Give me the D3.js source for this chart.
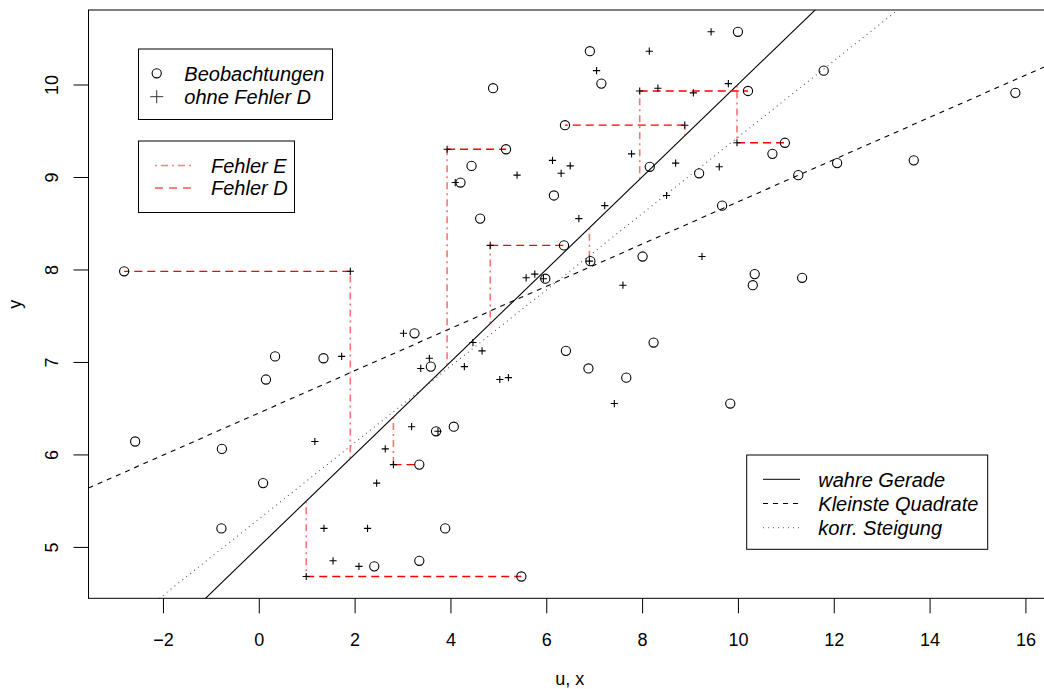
<!DOCTYPE html>
<html>
<head>
<meta charset="utf-8">
<script src="https://cdn.jsdelivr.net/npm/d3@7"></script>
<style>
  body { margin: 0; background: #fff; }
  svg text { font-family: 'Liberation Sans', Arial, Helvetica, sans-serif; fill: #000; }
</style>
</head>
<body>
<div id="chart"></div>
<script>
// observed x (circles), true u (crosses), observed y (shared)
const xObs = [10.00, 6.91, 11.79, 7.15, 4.89, 10.21, 15.79, 6.39, 10.98, 5.16,
              10.72, 13.67, 12.07, 4.44, 8.16, 9.19, 11.26, 4.21, 6.16, 9.67,
              4.62, 6.37, 8.01, 6.92, -2.81, 10.35, 11.34, 5.98, 10.31, 3.25,
              8.24, 6.41, 0.34, 1.35, 3.59, 6.88, 7.67, 0.15, 9.84, 4.07,
              3.70, -2.58, -0.77, 3.35, 0.09, 3.89, -0.78, 3.35, 2.41, 5.48];
const uTrue = [9.44, 8.15, 7.05, 9.80, 8.33, 7.95, 9.07, 8.89, 9.98, 3.93,
               7.78, 6.13, 8.70, 6.50, 9.61, 6.31, 5.39, 4.10, 8.51, 7.22,
               6.68, 4.83, 9.25, 6.90, 1.91, 5.76, 5.58, 5.94, 7.60, 3.02,
               4.47, 4.66, 1.73, 3.56, 4.29, 3.38, 5.21, 5.03, 7.42, 3.19,
               3.74, 1.17, 2.64, 2.81, 2.46, 1.36, 2.27, 1.55, 2.09, 0.99];
const yObs = [10.57, 10.36, 10.15, 10.01, 9.96, 9.93, 9.91, 9.56, 9.37, 9.30,
              9.25, 9.18, 9.15, 9.12, 9.11, 9.04, 9.02, 8.94, 8.80, 8.69,
              8.55, 8.26, 8.14, 8.09, 7.98, 7.95, 7.91, 7.90, 7.83, 7.31,
              7.21, 7.12, 7.06, 7.04, 6.95, 6.93, 6.83, 6.81, 6.55, 6.30,
              6.25, 6.14, 6.06, 5.89, 5.69, 5.20, 5.20, 4.85, 4.79, 4.68];
// points whose errors are drawn in red
const errIdx = [5, 7, 8, 9, 21, 23, 24, 43, 49];

const lineNames = ['wahre Gerade', 'Kleinste Quadrate', 'korr. Steigung'];
const lineIntercepts = [5.0, 6.448, 5.301];
const lineSlopes = [0.5, 0.2283, 0.4128];
const lineDash = [null, '5,5', '1,4'];
const lineColor = ['#000', '#000', '#555'];

const xTicks = [-2, 0, 2, 4, 6, 8, 10, 12, 14, 16];
const yTicks = [5, 6, 7, 8, 9, 10];

const width = 1044, height = 689;
const plot = { left: 88.5, right: 1051, top: 10, bottom: 598.3 };

// R style axis ranges: data range extended by 4 %
function pad(ext) {
  const d = (ext[1] - ext[0]) * 0.04;
  return [ext[0] - d, ext[1] + d];
}
const xScale = d3.scaleLinear()
                 .domain(pad(d3.extent(xObs.concat(uTrue))))
                 .range([plot.left, plot.right]);
const yScale = d3.scaleLinear()
                 .domain(pad(d3.extent(yObs)))
                 .range([plot.bottom, plot.top]);

const svg = d3.select('#chart').append('svg')
              .attr('width', width)
              .attr('height', height);
svg.append('rect')
   .attr('width', width)
   .attr('height', height)
   .attr('fill', '#fff');

svg.append('clipPath')
   .attr('id', 'clip')
   .append('rect')
     .attr('x', plot.left)
     .attr('y', plot.top)
     .attr('width', plot.right - plot.left)
     .attr('height', plot.bottom - plot.top);

// axes
const xAxis = d3.axisBottom(xScale)
                .tickValues(xTicks)
                .tickSize(15)
                .tickPadding(20)
                .tickFormat(d => d < 0 ? '\u2212' + Math.abs(d) : d);
const gx = svg.append('g')
              .attr('transform', `translate(0, ${plot.bottom})`)
              .call(xAxis);
gx.select('.domain').remove();
gx.selectAll('line').attr('stroke', '#000');
gx.selectAll('text')
  .attr('font-size', '18px')
  .attr('font-family', "'Liberation Sans', Arial, sans-serif");

const yAxis = d3.axisLeft(yScale)
                .tickValues(yTicks)
                .tickSize(15)
                .tickFormat(d => d);
const gy = svg.append('g')
              .attr('transform', `translate(${plot.left}, 0)`)
              .call(yAxis);
gy.select('.domain').remove();
gy.selectAll('line').attr('stroke', '#000');
gy.selectAll('text').remove();
gy.selectAll('.tick')
  .append('text')
    .attr('transform', 'translate(-30.5, 0) rotate(-90)')
    .attr('text-anchor', 'middle')
    .attr('font-size', '18px')
    .attr('font-family', "'Liberation Sans', Arial, sans-serif")
    .attr('fill', '#000')
    .text(d => d);

svg.append('text')
   .attr('x', (plot.left + plot.right) / 2)
   .attr('y', 685)
   .attr('text-anchor', 'middle')
   .attr('font-size', '18px')
   .text('u, x');
svg.append('text')
   .attr('transform', `translate(20.5, ${(plot.top + plot.bottom) / 2}) rotate(-90)`)
   .attr('text-anchor', 'middle')
   .attr('font-size', '18px')
   .text('y');

const inner = svg.append('g').attr('clip-path', 'url(#clip)');

// regression lines
const [x0, x1] = xScale.domain();
inner.append('g')
  .selectAll('line')
  .data(lineNames)
  .join('line')
    .attr('x1', xScale(x0))
    .attr('x2', xScale(x1))
    .attr('y1', (d, i) => yScale(lineIntercepts[i] + lineSlopes[i] * x0))
    .attr('y2', (d, i) => yScale(lineIntercepts[i] + lineSlopes[i] * x1))
    .attr('stroke', (d, i) => lineColor[i])
    .attr('stroke-width', 1.1)
    .attr('stroke-dasharray', (d, i) => lineDash[i]);

// error E: vertical from true line to y
inner.append('g')
  .selectAll('line')
  .data(errIdx)
  .join('line')
    .attr('x1', i => xScale(uTrue[i]))
    .attr('x2', i => xScale(uTrue[i]))
    .attr('y1', i => yScale(lineIntercepts[0] + lineSlopes[0] * uTrue[i]))
    .attr('y2', i => yScale(yObs[i]))
    .attr('stroke', '#ff0000')
    .attr('stroke-opacity', 0.55)
    .attr('stroke-width', 1.6)
    .attr('stroke-dasharray', '2,4,7,4');

// error D: horizontal from u to x
inner.append('g')
  .selectAll('line')
  .data(errIdx)
  .join('line')
    .attr('x1', i => xScale(uTrue[i]))
    .attr('x2', i => xScale(xObs[i]))
    .attr('y1', i => yScale(yObs[i]))
    .attr('y2', i => yScale(yObs[i]))
    .attr('stroke', '#ff0000')
    .attr('stroke-width', 1.3)
    .attr('stroke-dasharray', '8,5');

// crosses
inner.append('g')
  .selectAll('path')
  .data(uTrue)
  .join('path')
    .attr('d', (d, i) => {
      const cx = xScale(d), cy = yScale(yObs[i]), s = 3.6;
      return `M${cx - s},${cy}H${cx + s}M${cx},${cy - s}V${cy + s}`;
    })
    .attr('stroke', '#000')
    .attr('stroke-width', 1.1)
    .attr('fill', 'none');

// circles
inner.append('g')
  .selectAll('circle')
  .data(xObs)
  .join('circle')
    .attr('cx', d => xScale(d))
    .attr('cy', (d, i) => yScale(yObs[i]))
    .attr('r', 4.6)
    .attr('fill', 'none')
    .attr('stroke', '#000')
    .attr('stroke-width', 1.1);

// frame
svg.append('rect')
   .attr('x', plot.left)
   .attr('y', plot.top)
   .attr('width', plot.right - plot.left)
   .attr('height', plot.bottom - plot.top)
   .attr('fill', 'none')
   .attr('stroke', '#000')
   .attr('stroke-width', 1);

// legends
function legendBox(x, y, w, h) {
  svg.append('rect')
     .attr('x', x).attr('y', y)
     .attr('width', w).attr('height', h)
     .attr('fill', '#fff')
     .attr('stroke', '#000')
     .attr('stroke-width', 1);
}
function legendText(x, y, txt) {
  svg.append('text')
     .attr('x', x)
     .attr('y', y)
     .attr('dy', '0.36em')
     .attr('font-size', '20px')
     .attr('font-style', 'italic')
     .text(txt);
}

legendBox(138.5, 49, 194, 70.5);
svg.append('circle')
   .attr('cx', 156.7).attr('cy', 73.3).attr('r', 4.6)
   .attr('fill', 'none').attr('stroke', '#000').attr('stroke-width', 1.1);
svg.append('path')
   .attr('d', 'M150.2,96.7H163.2M156.7,90.2V103.2')
   .attr('stroke', '#333').attr('stroke-width', 1);
legendText(184.3, 73.3, 'Beobachtungen');
legendText(184.3, 96.7, 'ohne Fehler D');

legendBox(138.5, 141, 156, 71.5);
svg.append('line')
   .attr('x1', 155).attr('x2', 192).attr('y1', 165.5).attr('y2', 165.5)
   .attr('stroke', '#ff0000').attr('stroke-opacity', 0.5).attr('stroke-width', 1.3)
   .attr('stroke-dasharray', '2,4,7,4');
svg.append('line')
   .attr('x1', 155).attr('x2', 192).attr('y1', 188).attr('y2', 188)
   .attr('stroke', '#ff0000').attr('stroke-width', 1.2)
   .attr('stroke-dasharray', '8,6');
legendText(211, 165.5, 'Fehler E');
legendText(211, 188, 'Fehler D');

legendBox(746.7, 455, 241, 94.3);
lineNames.forEach((name, i) => {
  const ly = 479.3 + i * 24.2;
  svg.append('line')
     .attr('x1', 763).attr('x2', 800).attr('y1', ly).attr('y2', ly)
     .attr('stroke', lineColor[i])
     .attr('stroke-width', 1)
     .attr('stroke-dasharray', lineDash[i]);
  legendText(818.3, ly, name);
});
</script>
</body>
</html>
